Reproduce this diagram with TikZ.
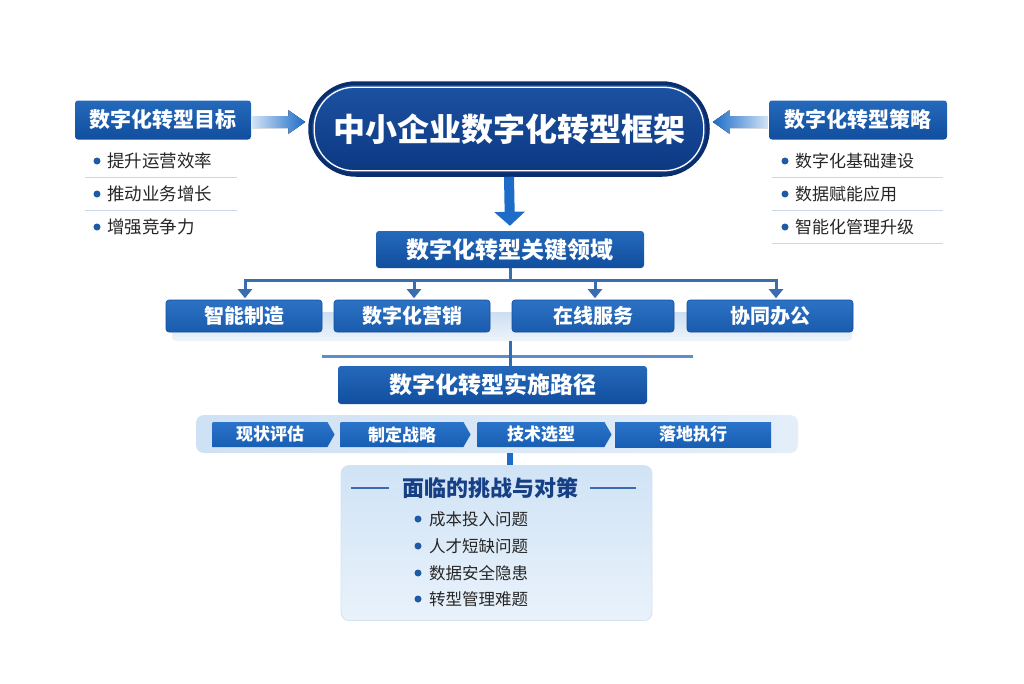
\documentclass[tikz,border=0pt]{standalone}
\usepackage{fontspec}
\setmainfont{Noto Sans CJK SC}
\usetikzlibrary{calc,arrows.meta,shapes.symbols}
\definecolor{hdrtop}{HTML}{2569BB}
\definecolor{hdrbot}{HTML}{114E9E}
\definecolor{boxtop}{HTML}{2C72C4}
\definecolor{boxbot}{HTML}{1A5BAD}
\definecolor{navyA}{HTML}{1C52A3}
\definecolor{navyB}{HTML}{0C3780}
\definecolor{navyEdge}{HTML}{0A2D6B}
\definecolor{arrowblue}{HTML}{1C6CC8}
\definecolor{arrowlight}{HTML}{D2E3F5}
\definecolor{treeblue}{HTML}{3A6DB0}
\definecolor{hlblue}{HTML}{5B8ECB}
\definecolor{vblue}{HTML}{2E6DB6}
\definecolor{panelL}{HTML}{CFE1F4}
\definecolor{panelR}{HTML}{E3EEF9}
\definecolor{chevtop}{HTML}{2A74CA}
\definecolor{chevbot}{HTML}{185EB3}
\definecolor{botTop}{HTML}{D0E3F5}
\definecolor{botBot}{HTML}{E9F2FB}
\definecolor{botEdge}{HTML}{D3E3F3}
\definecolor{btitle}{HTML}{173F86}
\definecolor{sepline}{HTML}{C9D8EA}
\definecolor{dotblue}{HTML}{1E5BA6}
\definecolor{bultext}{HTML}{262626}
\definecolor{shadtop}{HTML}{CCDEF1}
\definecolor{shadbot}{HTML}{EEF4FB}
\begin{document}
\begin{tikzpicture}[x=1pt,y=-1pt,
  hdr/.style={rectangle, rounded corners=3pt, top color=hdrtop, bottom color=hdrbot,
    text=white, inner sep=0pt, font=\fontsize{21}{23}\selectfont\bfseries},
  keybox/.style={rectangle, rounded corners=3pt, top color=hdrtop, bottom color=hdrbot,
    text=white, inner sep=0pt, font=\fontsize{23}{25}\selectfont\bfseries},
  areabox/.style={rectangle, rounded corners=3pt, top color=boxtop, bottom color=boxbot,
    draw=hdrbot, line width=0.6pt, text=white, inner sep=0pt, minimum height=32pt,
    font=\fontsize{20}{22}\selectfont\bfseries},
  chev/.style={signal, signal from=nowhere, signal to=east, signal pointer angle=120,
    top color=chevtop, bottom color=chevbot, text=white, inner sep=0pt,
    minimum height=25pt, font=\fontsize{17}{19}\selectfont\bfseries},
  bul/.style={anchor=west, inner sep=0pt, text=bultext, font=\fontsize{17.5}{19}\selectfont},
  rbul/.style={anchor=west, inner sep=0pt, text=bultext, font=\fontsize{17}{19}\selectfont},
  bbul/.style={anchor=west, inner sep=0pt, text=bultext, font=\fontsize{16.5}{18}\selectfont},
  dotc/.style={fill=dotblue},
  sep/.style={draw=sepline, line width=1pt},
  tree/.style={draw=treeblue, line width=3pt},
  tip/.style={-{Triangle[width=14pt,length=9pt]}, shorten >=1.5pt},
  gradarrowL/.style={left color=arrowlight, right color=arrowblue},
  gradarrowR/.style={left color=arrowblue, right color=arrowlight}
]
\useasboundingbox[fill=white] (0,0) rectangle (1024,683);

% ---------- central title ----------
\node[rectangle, minimum width=398pt, minimum height=92pt, rounded corners=46pt,
  top color=navyA, bottom color=navyB, draw=navyEdge, line width=3.5pt,
  text=white, font=\fontsize{32}{36}\selectfont\bfseries, inner sep=0pt]
  (title) at (509,129) {中小企业数字化转型框架};
\draw[white, line width=1.3pt, rounded corners=40pt]
  ([shift={(6pt,-6pt)}]title.north west) rectangle ([shift={(-6pt,6pt)}]title.south east);

% ---------- side headers ----------
\node[hdr, minimum width=176pt, minimum height=39pt] (hL) at (163,120) {数字化转型目标};
\node[hdr, minimum width=178pt, minimum height=39pt] (hR) at (858,120) {数字化转型策略};

% gradient arrows
\coordinate (aLs) at ([xshift=1pt,yshift=-2pt]hL.east);
\coordinate (aLt) at ([xshift=-3pt]title.west |- aLs);
\fill[gradarrowL] ($(aLs)+(0,-6)$) -- ($(aLt)+(-17,-6)$) -- ($(aLt)+(-17,-12)$) -- (aLt)
  -- ($(aLt)+(-17,12)$) -- ($(aLt)+(-17,6)$) -- ($(aLs)+(0,6)$) -- cycle;
\coordinate (aRs) at ([xshift=-1pt,yshift=-2pt]hR.west);
\coordinate (aRt) at ([xshift=3pt]title.east |- aRs);
\fill[gradarrowR] ($(aRs)+(0,-6)$) -- ($(aRt)+(17,-6)$) -- ($(aRt)+(17,-12)$) -- (aRt)
  -- ($(aRt)+(17,12)$) -- ($(aRt)+(17,6)$) -- ($(aRs)+(0,6)$) -- cycle;

% left bullets
\fill[dotc] (97,161) circle (3.5pt);
\node[bul] (l1) at (107,161) {提升运营效率};
\draw[sep] (85,177) -- (237,177);
\fill[dotc] (97,194) circle (3.5pt);
\node[bul] (l2) at (107,194) {推动业务增长};
\draw[sep] (85,210) -- (237,210);
\fill[dotc] (97,227) circle (3.5pt);
\node[bul] (l3) at (107,227) {增强竞争力};

% right bullets
\fill[dotc] (785,161) circle (3.5pt);
\node[rbul] (r1) at (795,161) {数字化基础建设};
\draw[sep] (772,177) -- (943,177);
\fill[dotc] (785,194) circle (3.5pt);
\node[rbul] (r2) at (795,194) {数据赋能应用};
\draw[sep] (772,210) -- (943,210);
\fill[dotc] (785,227) circle (3.5pt);
\node[rbul] (r3) at (795,227) {智能化管理升级};
\draw[sep] (772,243) -- (943,243);

% ---------- key areas ----------
\node[keybox, minimum width=268pt, minimum height=37pt] (keys) at (510,249.5) {数字化转型关键领域};
\draw[arrowblue, line width=10pt, -{Triangle[width=30pt,length=14pt]}, shorten >=5pt]
  (title.south) -- (keys.north);

\node[rectangle, rounded corners=4pt, top color=shadtop, bottom color=shadbot,
  minimum width=680pt, minimum height=29pt, inner sep=0pt] (shad) at (512,326.5) {};

\node[areabox, minimum width=156pt] (k1) at (244,316) {智能制造};
\node[areabox, minimum width=156pt] (k2) at (412,316) {数字化营销};
\node[areabox, minimum width=162pt] (k3) at (593,316) {在线服务};
\node[areabox, minimum width=166pt] (k4) at (770,316) {协同办公};

\coordinate (bus) at ([yshift=-12pt]keys.south);
\coordinate (d1) at ([xshift=1pt]k1.north);
\coordinate (d2) at ([xshift=2pt]k2.north);
\coordinate (d3) at ([xshift=2pt]k3.north);
\coordinate (d4) at ([xshift=6pt]k4.north);
\draw[tree] (keys.south) -- (bus);
\draw[tree, line cap=rect] (d1 |- bus) -- (d4 |- bus);
\draw[tree, tip] (d1 |- bus) -- (d1);
\draw[tree, tip] (d2 |- bus) -- (d2);
\draw[tree, tip] (d3 |- bus) -- (d3);
\draw[tree, tip] (d4 |- bus) -- (d4);

% ---------- implementation path ----------
\node[keybox, minimum width=309pt, minimum height=38pt] (path) at (492.5,385) {数字化转型实施路径};
\coordinate (hl1) at (322,356);
\coordinate (hl2) at (693,356);
\draw[hlblue, line width=3pt] (hl1) -- (hl2);
\draw[vblue, line width=3pt] (keys.south |- shad.south) -- (keys.south |- path.north);

\node[rectangle, rounded corners=8pt, left color=panelL, right color=panelR,
  minimum width=602pt, minimum height=38pt, inner sep=0pt] (panel) at (497,434) {};
\node[chev, minimum width=122pt] (c1) at (270,434.5) {现状评估};
\node[chev, minimum width=130pt] (c2) at (402,434.5) {制定战略};
\node[chev, minimum width=134pt] (c3) at (541,434.5) {技术选型};
\node[rectangle, top color=chevtop, bottom color=chevbot, text=white, inner sep=0pt,
  minimum height=25pt, minimum width=156pt, font=\fontsize{17}{19}\selectfont\bfseries]
  (c4) at (693,434.5) {落地执行};

% ---------- challenges ----------
\node[rectangle, rounded corners=8pt, top color=botTop, bottom color=botBot,
  draw=botEdge, line width=0.8pt, minimum width=311pt, minimum height=155pt, inner sep=0pt]
  (bot) at (496.5,543) {};
\draw[arrowblue, line width=6pt] (keys.south |- panel.south) -- (keys.south |- bot.north);

\node[inner sep=0pt, text=btitle, font=\fontsize{22}{24}\selectfont\bfseries]
  (bt) at (490,488) {面临的挑战与对策};
\draw[treeblue, line width=1.2pt] ([xshift=-13pt]bt.west) -- ([xshift=-51pt]bt.west);
\draw[treeblue, line width=1.2pt] ([xshift=12pt]bt.east) -- ([xshift=58pt]bt.east);

\fill[dotc] (418,519) circle (3.5pt);
\node[bbul] (b1) at (429,519) {成本投入问题};
\fill[dotc] (418,546) circle (3.5pt);
\node[bbul] (b2) at (429,546) {人才短缺问题};
\fill[dotc] (418,573) circle (3.5pt);
\node[bbul] (b3) at (429,573) {数据安全隐患};
\fill[dotc] (418,599) circle (3.5pt);
\node[bbul] (b4) at (429,599) {转型管理难题};
\end{tikzpicture}
\end{document}
